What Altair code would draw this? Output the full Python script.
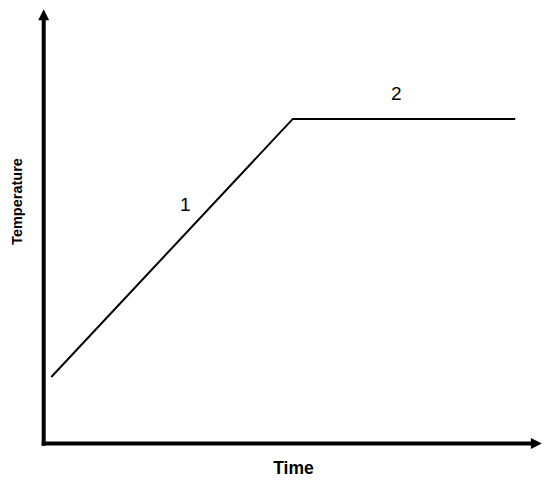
import altair as alt
import pandas as pd

# Curve: time vs temperature (arbitrary units, 0..10 on both axes)
time_vals = [0.15, 4.93, 9.33]
temp_vals = [1.53, 7.47, 7.47]

# Segment labels
label_text = ["1", "2"]
label_time = [2.80, 6.98]
label_temp = [5.50, 8.04]

# Axis arrows (shaft ends and arrowhead positions)
axis_x_start = [-0.04, 0.0]
axis_x_end = [9.68, 0.0]
axis_y_start = [0.0, -0.05]
axis_y_end = [0.0, 9.75]
head_up = {"t": [0.0], "T": [9.87]}
head_right = {"t": [9.75], "T": [0.0]}

W, H = 534, 470
FONT = "Liberation Sans"

xs = alt.Scale(domain=[0, 10], range=[35.7, 541])
ys = alt.Scale(domain=[0, 10], range=[435.5, 1])

x_axis = alt.Axis(title="Time", domain=False, ticks=False, labels=False, grid=False,
                  titleFont=FONT, titleFontSize=17.5, titleFontWeight="bold",
                  titleColor="black", titleX=285, titleY=-10,
                  titleAlign="center", titleBaseline="middle")
y_axis = alt.Axis(title="Temperature", domain=False, ticks=False, labels=False, grid=False,
                  titleFont=FONT, titleFontSize=14.5, titleFontWeight="bold",
                  titleColor="black", titleX=9, titleY=193, titleAngle=270,
                  titleAlign="center", titleBaseline="middle")

curve_df = pd.DataFrame({"t": time_vals, "T": temp_vals})
lab_df = pd.DataFrame({"t": label_time, "T": label_temp, "txt": label_text})
axes_df = pd.DataFrame({"x": axis_x_start, "x2": axis_x_end, "y": axis_y_start, "y2": axis_y_end})

curve = alt.Chart(curve_df).mark_line(color="black", strokeWidth=2).encode(
    x=alt.X("t:Q", scale=xs, axis=x_axis),
    y=alt.Y("T:Q", scale=ys, axis=y_axis),
)

axes = alt.Chart(axes_df).mark_rule(color="black", strokeWidth=4).encode(
    x=alt.X("x:Q", scale=xs), x2="x2:Q",
    y=alt.Y("y:Q", scale=ys), y2="y2:Q",
)

up = alt.Chart(pd.DataFrame(head_up)).mark_point(
    shape="M-1,1L1,1L0,-1Z", filled=True, color="black", opacity=1, size=121
).encode(x=alt.X("t:Q", scale=xs), y=alt.Y("T:Q", scale=ys))

right = alt.Chart(pd.DataFrame(head_right)).mark_point(
    shape="M-1,-1L1,0L-1,1Z", filled=True, color="black", opacity=1, size=121
).encode(x=alt.X("t:Q", scale=xs), y=alt.Y("T:Q", scale=ys))

labels = alt.Chart(lab_df).mark_text(font=FONT, fontSize=19, color="black").encode(
    x=alt.X("t:Q", scale=xs), y=alt.Y("T:Q", scale=ys), text="txt:N"
)

chart = alt.layer(curve, axes, up, right, labels).properties(
    width=W, height=H, padding=0,
    autosize=alt.AutoSizeParams(type="none"),
    background="white",
).configure_view(stroke=None)

chart.save("out.html", embed_options={"renderer": "svg", "actions": False})
